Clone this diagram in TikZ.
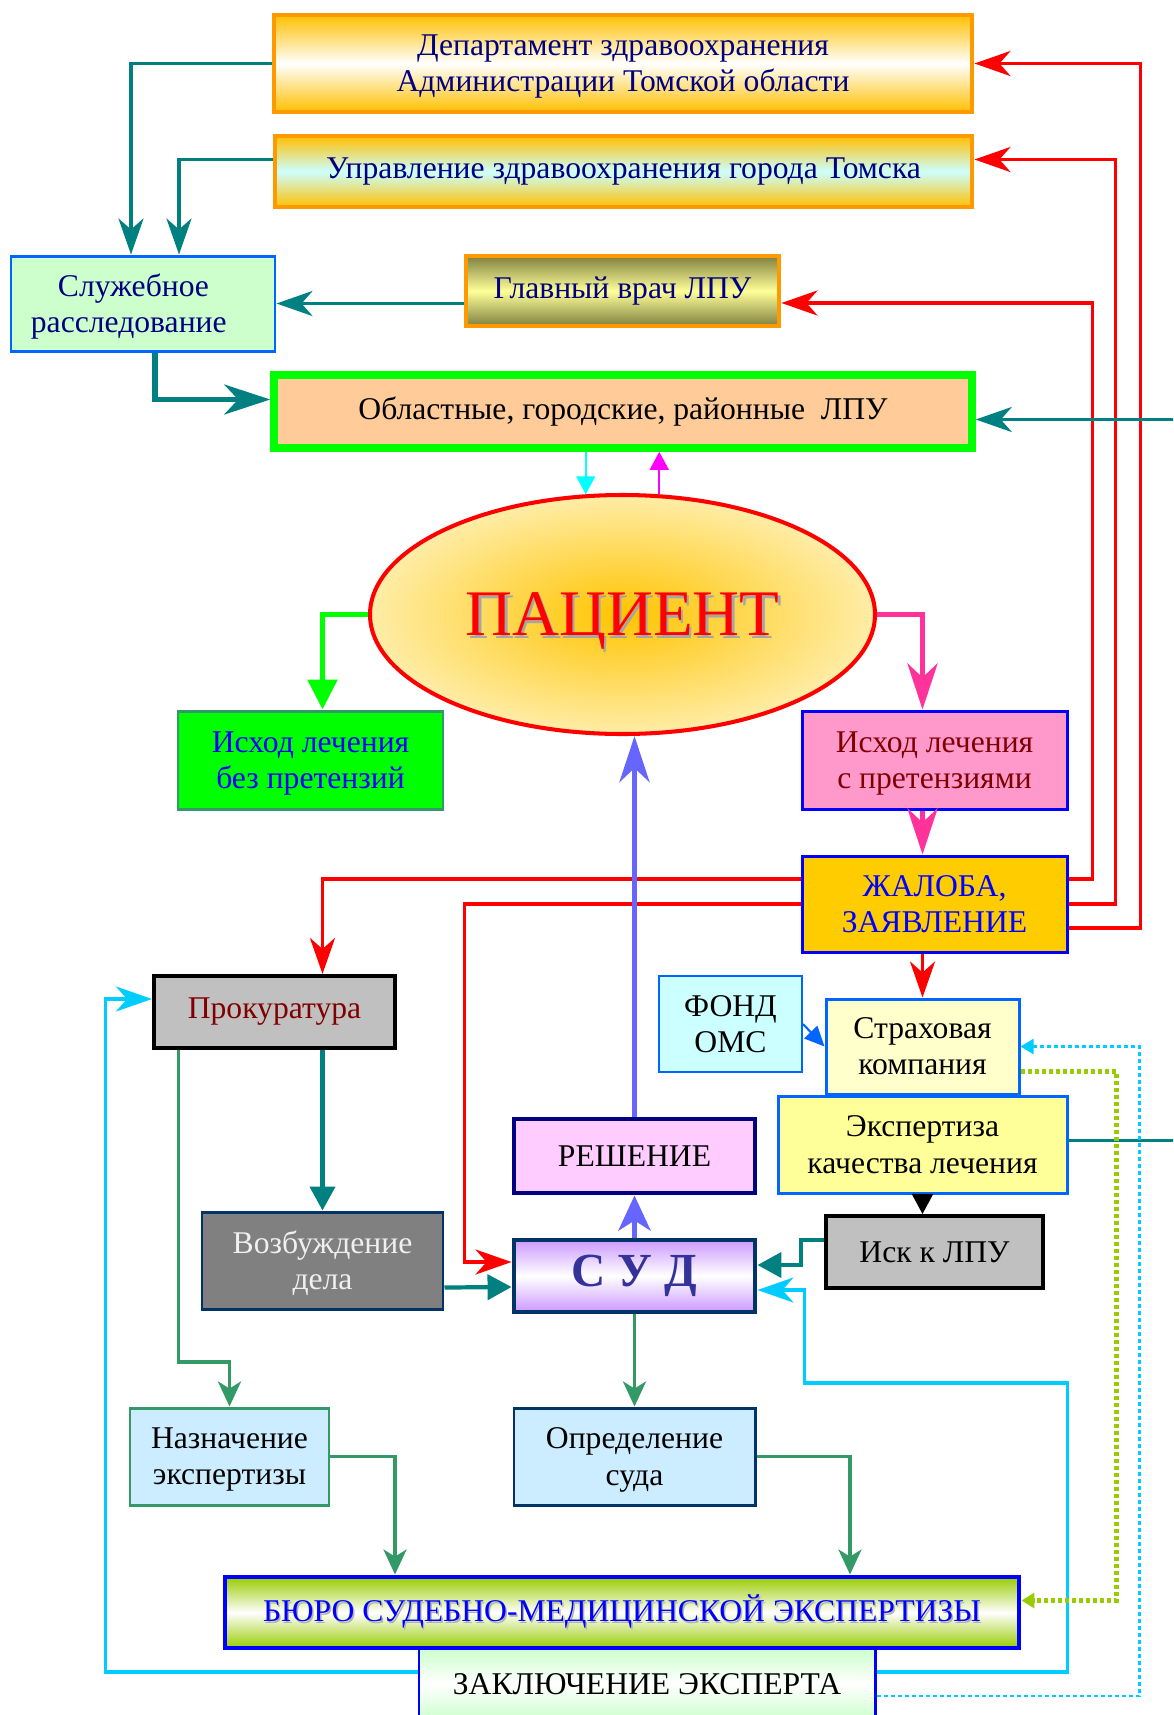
\documentclass[tikz,border=0pt]{standalone}
\usepackage{fontspec}
\setmainfont{Liberation Serif}
\usepackage{tikz}
\usetikzlibrary{calc,shapes.geometric,arrows.meta}
\usepackage{xcolor}

\definecolor{navytext}{HTML}{000080}
\definecolor{boxorange}{HTML}{FF9900}
\definecolor{deptgold}{HTML}{FFC000}
\definecolor{lightcyan}{HTML}{CCFFFF}
\definecolor{midblue}{HTML}{0066FF}
\definecolor{palegreen}{HTML}{CCFFCC}
\definecolor{olivebar}{HTML}{808040}
\definecolor{paleyellow}{HTML}{FFFF99}
\definecolor{lightyellow}{HTML}{FFFFCC}
\definecolor{brightgreen}{HTML}{00FF00}
\definecolor{peach}{HTML}{FFCC99}
\definecolor{patcore}{HTML}{FFC400}
\definecolor{patrim}{HTML}{FFEDA8}
\definecolor{seagreen}{HTML}{339966}
\definecolor{pinkfill}{HTML}{FF99CC}
\definecolor{pinkline}{HTML}{FF3399}
\definecolor{darkred}{HTML}{800000}
\definecolor{goldfill}{HTML}{FFCC00}
\definecolor{silverfill}{HTML}{C0C0C0}
\definecolor{lilac}{HTML}{FFCCFF}
\definecolor{darkblue}{HTML}{003366}
\definecolor{sudviolet}{HTML}{CC99FF}
\definecolor{sudtext}{HTML}{333399}
\definecolor{iceblue}{HTML}{CCECFF}
\definecolor{yellowgreen}{HTML}{99CC00}
\definecolor{skyline}{HTML}{00CCFF}
\definecolor{bluearrow}{HTML}{6666FF}
\definecolor{aqualine}{HTML}{00FFFF}
\definecolor{pinkviolet}{HTML}{FF00FF}

\newcommand{\dropshadowtext}[3]{\makebox[0pt][l]{\hspace{#3}\raisebox{-#3}{\textcolor{#1}{#2}}}#2}

\tikzset{%
  box size/.style 2 args={minimum width=#1*0.2mm, minimum height=#2*0.2mm},
  box/.style={draw, line width=1.7pt, inner sep=0pt, align=center, font=\fontsize{18}{20.5}\selectfont},
  pair/.style={text depth=0pt},
  orange box/.style={box, draw=boxorange, line width=2.8pt},
  link/.style={line width=2.2pt, -{Stealth[length=7.2mm, width=5mm, inset=2.2mm]}},
  big link/.style={line width=3.4pt, -{Stealth[length=9.2mm, width=6mm, inset=2.8mm]}},
  tri link/.style={line width=2.4pt, -{Triangle[length=4.8mm, width=5mm]}},
  thin link/.style={line width=0.9pt, -{Triangle[length=3.6mm, width=3.8mm]}},
  sea link/.style={draw=seagreen, line width=1.9pt, -{Stealth[length=5mm, width=4.6mm, inset=1.4mm]}},
  dot link/.style={dash pattern=on 0.8mm off 0.6mm, -{Triangle[length=2.6mm, width=3mm]}}
}

\begin{document}
\begin{tikzpicture}[x=0.2mm, y=-0.2mm]
  \useasboundingbox (0, 0) rectangle (1173, 1715);
  \clip (0, 0) rectangle (1173, 1715);

  % authorities
  \node[orange box, pair, box size={698}{97}, top color=deptgold, bottom color=deptgold, middle color=white, text=navytext] (dept) at (623, 63.5) {Департамент здравоохранения\\Администрации Томской области};
  \node[orange box, box size={697}{71}, top color=deptgold, bottom color=deptgold, middle color=lightcyan, text=navytext] (uprav) at (623.5, 171.5) {Управление здравоохранения города Томска};
  \node[box, pair, box size={264}{95}, draw=midblue, fill=palegreen, text=navytext] (sluzh) at (143, 303.5) {Служебное\hspace*{0.6em}\\расследование\hspace*{0.9em}};
  \node[orange box, box size={313}{70}, top color=olivebar, bottom color=olivebar, middle color=paleyellow, text=navytext] (glav) at (622.5, 291) {Главный врач ЛПУ};
  \node[box, box size={698}{73}, draw=brightgreen, line width=4.3pt, fill=peach] (obl) at (623, 411.5) {Областные, городские, районные\ \ ЛПУ};

  \node[ellipse, pair, box size={505}{239}, draw=red, line width=2.3pt, inner color=patcore, outer color=patrim, inner sep=0pt, text=red, font=\fontsize{37}{40}\selectfont] (pat) at (622.5, 614.5) {\dropshadowtext{gray!70}{ПАЦИЕНТ}{1.5pt}};

  \node[box, pair, box size={265}{98}, draw=seagreen, fill=brightgreen, text=blue] (bez) at (310.5, 760) {Исход лечения\\без претензий};
  \node[box, pair, box size={265}{98}, draw=blue, fill=pinkfill, text=darkred] (spret) at (934.5, 760) {Исход лечения\\с претензиями};
  \node[box, box size={265}{96}, draw=blue, fill=goldfill, text=blue] (zhal) at (934.5, 904) {ЖАЛОБА,\\ЗАЯВЛЕНИЕ};

  \node[box, box size={241}{72}, draw=black, line width=2.3pt, fill=silverfill, text=darkred] (prok) at (274.5, 1012) {Прокуратура};
  \node[box, box size={143}{96}, draw=midblue, line width=1.1pt, fill=lightcyan] (fond) at (730.5, 1024) {ФОНД\\ОМС};
  \node[box, pair, box size={193}{95}, draw=midblue, fill=lightyellow] (strakh) at (922.5, 1046.5) {Страховая\\компания};
  \node[box, pair, box size={289}{97}, draw=midblue, fill=paleyellow] (ekspert) at (922.5, 1144.5) {Экспертиза\\качества лечения};
  \node[box, box size={241}{74}, draw=navytext, line width=2.8pt, fill=lilac] (resh) at (634.5, 1156) {РЕШЕНИЕ};
  \node[box, box size={217}{72}, draw=black, line width=2.3pt, fill=silverfill] (isk) at (934.5, 1252) {Иск к ЛПУ};
  \node[box, pair, box size={241}{97}, draw=darkblue, fill=gray, text=white!94!black] (vozb) at (322.5, 1260.5) {Возбуждение\\дела};
  \node[box, box size={241}{72}, draw=darkblue, line width=2.8pt, top color=sudviolet, bottom color=sudviolet, middle color=white, text=sudtext, font=\fontsize{27}{30}\selectfont\bfseries] (sud) at (634.5, 1276) {С У Д};

  \node[box, pair, box size={199}{97}, draw=seagreen, fill=iceblue] (nazn) at (229.5, 1456.5) {Назначение\\экспертизы};
  \node[box, pair, box size={241}{97}, draw=darkblue, fill=iceblue] (opred) at (634.5, 1456.5) {Определение\\суда};
  \node[box, box size={456}{72}, draw=blue, top color=palegreen, bottom color=palegreen, middle color=white] (zakl) at (647, 1684) {ЗАКЛЮЧЕНИЕ ЭКСПЕРТА};
  \node[box, box size={794}{71}, draw=blue, line width=2.8pt, top color=yellowgreen, bottom color=yellowgreen, middle color=white, text=blue] (buro) at (622, 1612.5) {\dropshadowtext{gray!60}{БЮРО СУДЕБНО-МЕДИЦИНСКОЙ ЭКСПЕРТИЗЫ}{0.8pt}};

  % investigation
  \draw[link, teal] (dept.west) -| ($(sluzh.north) + (-12, 0)$);
  \draw[link, teal] ($(uprav.west) + (0, -12)$) -| ($(sluzh.north) + (36, 0)$);
  \draw[link, teal] (sluzh.east -| glav.west) -- (sluzh.east);
  \draw[big link, teal, line width=3pt] ($(sluzh.south) + (12, 0)$) |- ($(obl.west) + (0, -12)$);

  % complaint upwards
  \draw[link, red] ($(zhal.east) + (0, -25)$) -- ++(24, 0) |- ($(glav.east) + (0, 12)$);
  \draw[link, red] (zhal.east) -- ++(47, 0) |- ($(uprav.east) + (0, -12)$);
  \draw[link, red] ($(zhal.east) + (0, 24)$) -- ++(72, 0) |- (dept.east);
  \draw[link, teal] ($(ekspert.east) + (0, -4)$) -- ++(140, 0) |- ($(obl.east) + (0, 8)$);

  \draw[thin link, aqualine] (obl.south -| pat.107) -- (pat.107);
  \draw[thin link, pinkviolet] (pat.73) -- (pat.73 |- obl.south);
  \draw[brightgreen, line width=3.2pt, -{Triangle[length=6mm, width=5.8mm]}] (pat.west) -| ($(bez.north) + (12, 0)$);
  \draw[big link, pinkline] (pat.east) -| ($(spret.north) + (-12, 0)$);
  \draw[big link, pinkline] ($(spret.south) + (-12, 0)$) -- ($(zhal.north) + (-12, 0)$);

  % complaint routes
  \draw[link, red] ($(zhal.west) + (0, -25)$) -| ($(prok.north) + (48, 0)$);
  \draw[link, red] (zhal.west) -| ($(sud.west) + (-47, -14)$) -- ($(sud.west) + (0, -14)$);
  \draw[link, red] (strakh.north |- zhal.south) -- (strakh.north);
  \draw[midblue, line width=1.2pt, -{Triangle[length=4mm, width=3.6mm]}] (fond.east) -- (strakh.west);
  \draw[black, line width=1.2pt, -{Triangle[length=4mm, width=4.2mm]}] (ekspert.south) -- (ekspert.south |- isk.north);
  \draw[tri link, teal] ($(isk.west) + (0, -12)$) -- ++(-23, 0) |- ($(sud.east) + (0, -11)$);

  % court
  \draw[big link, bluearrow, -{Stealth[length=7mm, width=6.4mm, inset=2mm]}] (sud.north) -- (resh.south);
  \draw[big link, bluearrow] (resh.north) -- (resh.north |- pat.south);
  \draw[tri link, teal] (vozb.north |- prok.south) -- (vozb.north);
  \draw[sea link] ($(prok.south) + (-96, 0)$) -- ++(0, 312) -| (nazn.north);
  \draw[tri link, teal] ($(vozb.east) + (0, 27)$) -- ($(sud.west) + (0, 11)$);
  \draw[sea link] (sud.south) -- (opred.north);
  \draw[sea link] (nazn.east) -| ($(buro.north) + (-227, 0)$);
  \draw[sea link] (opred.east) -| ($(buro.north) + (228, 0)$);

  % expert report
  \draw[link, skyline, line width=1.9pt] ($(zakl.west) + (0, -12)$) -- ++(-312, 0) |- ($(prok.west) + (0, -13)$);
  \draw[link, skyline, line width=1.9pt] ($(zakl.east) + (0, -12)$) -- ++(191, 0) -- ++(0, -289) -- ++(-263, 0) |- ($(sud.east) + (0, 14)$);
  \draw[dot link, skyline, line width=1.3pt] ($(zakl.east) + (0, 12)$) -- ++(263, 0) |- (strakh.east);
  \draw[dot link, yellowgreen, line width=2.5pt] ($(strakh.east) + (0, 25)$) -- ++(96, 0) |- ($(buro.east) + (0, -12)$);
\end{tikzpicture}
\end{document}
